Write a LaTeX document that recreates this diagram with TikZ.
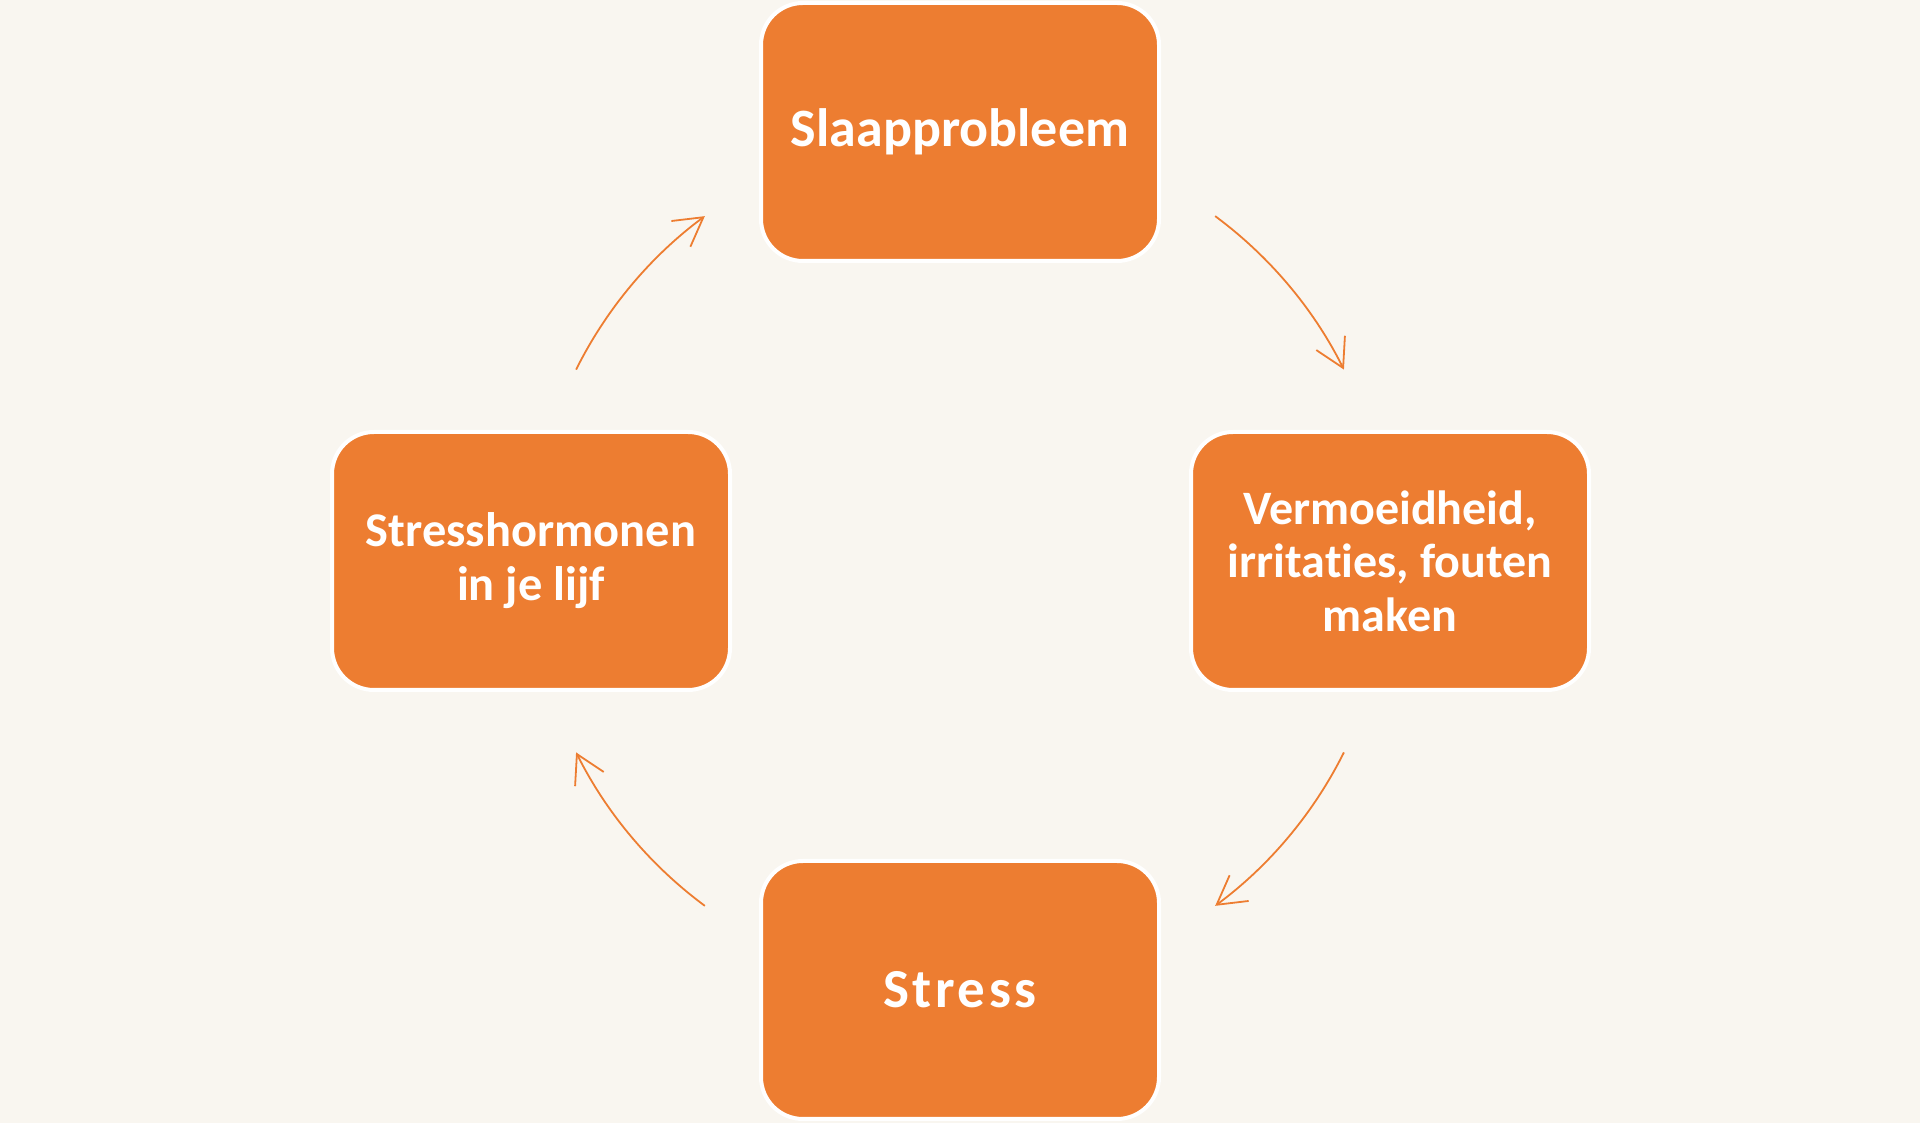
\documentclass[tikz,border=0pt]{standalone}
\usepackage{fontspec}
\setmainfont{Carlito}[Ligatures=NoCommon]
\usepackage{tikz}
\usetikzlibrary{positioning, calc, arrows.meta}
\definecolor{cyclebg}{HTML}{F9F6F0}
\definecolor{cycleorange}{HTML}{ED7D31}
\tikzstyle{CycleArrow} = [
    draw = cycleorange,
    line width = 0.9pt,
    -{Straight Barb[length=14pt, width=16pt, line width=0.9pt]}
]

\begin{document}
\begin{tikzpicture}[
x = 0.5pt, y = 0.5pt,
stage/.style={
    rectangle,
    rounded corners = 21pt,
    fill = cycleorange,
    draw = white,
    line width = 2pt,
    minimum width = 199pt,
    minimum height = 129pt,
    align = center,
    text = white
    }
]

\fill[cyclebg] (0,0) rectangle (1920,1123);
\useasboundingbox (0,0) rectangle (1920,1123);

\coordinate (mid) at (960,562);

\node [stage, font=\bfseries\fontsize{27pt}{30pt}\selectfont] (slaap) at (960,991) {Slaapprobleem};
\node [stage, font=\bfseries\fontsize{24pt}{26.75pt}\selectfont] (moe) at (1390,562) {Vermoeidheid,\\ irritaties, fouten\\ maken};
\node [stage, font=\bfseries\fontsize{27.5pt}{30pt}\selectfont\addfontfeatures{LetterSpace=6.5}] (stress) at (960,133) {Stress};
\node [stage, font=\bfseries\fontsize{24.2pt}{27pt}\selectfont] (hormoon) at (531,562) {Stresshormonen\\ in je lijf};

\coordinate (s1) at ($(mid)+(53.5:429)$);
\coordinate (s2) at ($(mid)+(-26.5:429)$);
\coordinate (s3) at ($(mid)+(-126.5:429)$);
\coordinate (s4) at ($(mid)+(153.5:429)$);

\draw[CycleArrow] (s1) arc [start angle=53.5, end angle=26.5, radius=429];
\draw[CycleArrow] (s2) arc [start angle=-26.5, end angle=-53.5, radius=429];
\draw[CycleArrow] (s3) arc [start angle=-126.5, end angle=-153.5, radius=429];
\draw[CycleArrow] (s4) arc [start angle=153.5, end angle=126.5, radius=429];

\end{tikzpicture}
\end{document}
